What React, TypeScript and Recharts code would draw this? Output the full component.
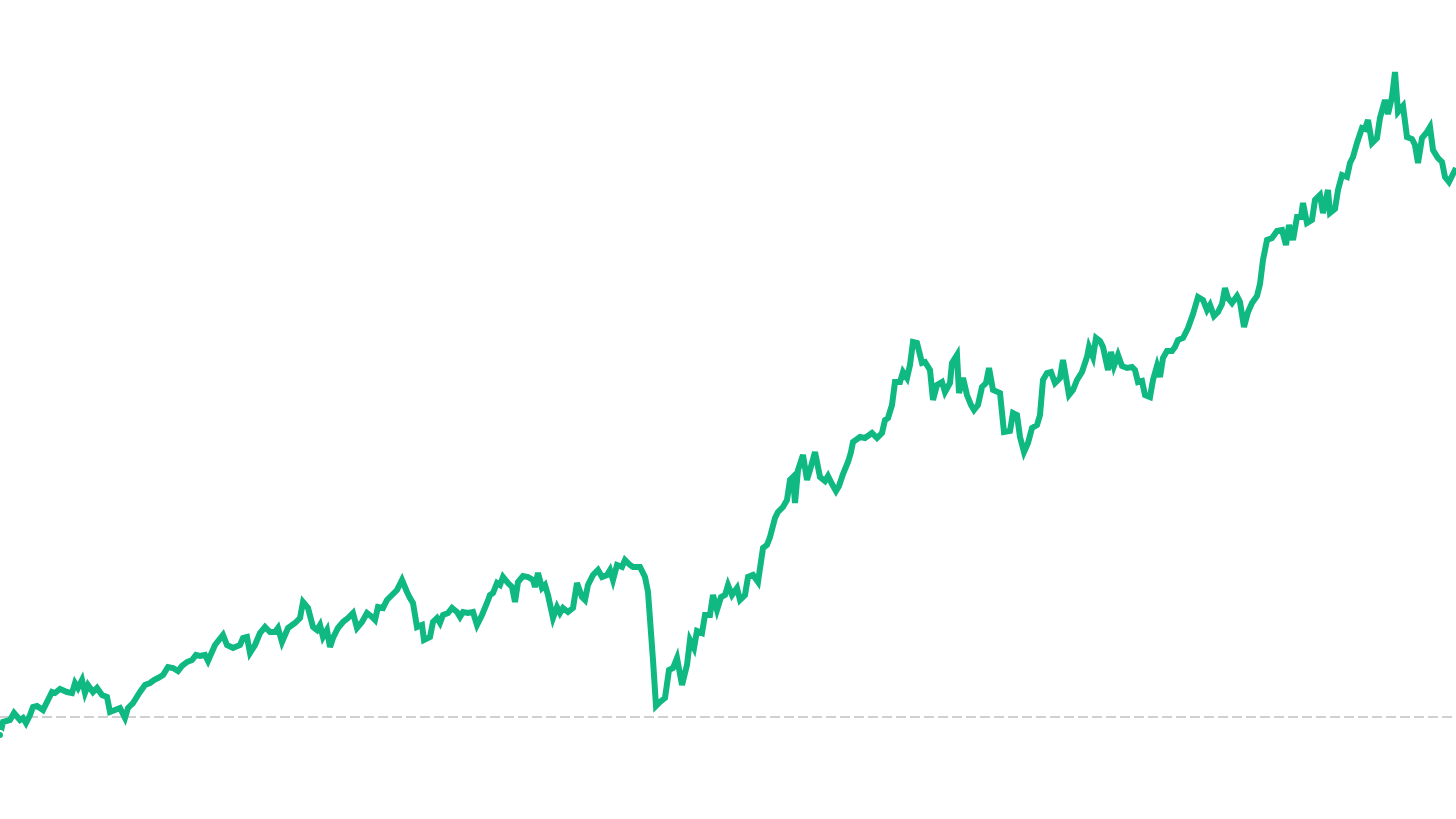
import React from 'react'
import { LineChart, Line, XAxis, YAxis, ReferenceLine } from 'recharts'

// trading day index since start
const days = [
  0, 3, 10, 14, 20, 23, 26, 30, 33, 37, 43, 52, 55, 60, 67, 72, 75, 78, 82, 85, 88, 93, 97, 102, 107, 110, 115, 120, 125, 128,
  133, 140, 145, 150, 154, 158, 163, 168, 173, 178, 182, 187, 192, 196, 200, 205, 208,
  215, 223, 227, 233, 240, 243, 247, 250, 255, 260, 265, 270, 275, 278, 282, 288, 295, 300, 303, 308, 313, 317, 320, 323,
  327, 330, 333, 338, 343, 348, 353, 357, 362, 367, 372, 375, 378, 383, 387, 392, 397, 402, 407, 410, 413, 417,
  422, 424, 430, 433, 437, 440, 443, 448, 452, 457, 460, 463, 468, 473, 477, 482, 487, 490, 493, 497, 500, 503, 508, 512,
  515, 518, 523, 528, 533, 535, 538, 542, 545, 548, 553, 557, 560, 563, 568, 573, 577, 582, 585, 588, 593, 598, 602, 607,
  610, 613, 617, 622, 625, 630, 633, 640, 645, 648, 653, 656,
  660, 665, 669, 673, 677, 682, 687, 690, 694, 697, 702, 705, 710, 713, 717, 721, 725, 728, 732, 737, 740, 745, 748, 753,
  758, 763, 767, 770, 775, 778, 783, 787, 790, 793, 795, 798, 803, 807, 810, 815, 820, 825, 828, 832, 836, 839, 843, 848,
  851, 853,
  860, 865, 872, 877, 882, 885, 888, 892, 895, 900, 903, 907, 910, 913, 917, 922, 925, 930, 933, 937, 942, 945, 950, 952,
  957, 959, 963, 967, 971, 974, 978, 982, 986, 989, 993, 1000, 1004, 1010, 1013, 1017, 1020, 1024, 1028, 1032, 1037, 1040,
  1043, 1047, 1051, 1055, 1060, 1063, 1069, 1073, 1077, 1082, 1087, 1089, 1093, 1096, 1100, 1103, 1108, 1111, 1114, 1118,
  1122, 1127, 1132, 1135, 1138, 1142, 1145, 1150, 1153, 1157, 1160, 1163, 1167, 1172, 1175, 1178, 1183, 1188, 1193, 1198,
  1203, 1207, 1210, 1214, 1218, 1222, 1225, 1228, 1232, 1237, 1240, 1244, 1248, 1252, 1257, 1260, 1263, 1267, 1272, 1277,
  1282, 1286, 1289, 1293, 1297, 1301, 1303, 1307, 1312, 1315, 1320, 1323, 1328, 1330, 1335, 1338, 1342, 1347, 1350, 1353,
  1357, 1362, 1365, 1368, 1372, 1377, 1380, 1385, 1388, 1392, 1395, 1398, 1403, 1407, 1412, 1415, 1418, 1422, 1427, 1430,
  1433, 1438, 1442, 1445, 1449, 1453, 1456,
]

// cumulative return, %
const returns = [
  -1.8, -0.5, -0.3, 0.4, -0.3, -0.1, -0.6, 0.2, 1.0, 1.1, 0.7, 2.5, 2.4, 2.8, 2.5, 2.4, 3.4, 2.9, 3.7, 2.4, 3.2, 2.5, 2.9, 2.2, 2.0, 0.5, 0.7, 0.9, -0.1, 0.9,
  1.4, 2.5, 3.2, 3.4, 3.7, 3.9, 4.2, 5.0, 4.9, 4.6, 5.1, 5.5, 5.7, 6.2, 6.1, 6.2, 5.6,
  7.2, 8.2, 7.2, 6.9, 7.2, 7.9, 8.0, 6.4, 7.2, 8.4, 9.0, 8.5, 8.5, 8.9, 7.5, 8.9, 9.4, 9.9, 11.5, 10.9, 9.0, 8.7, 9.2, 8.0,
  8.7, 7.0, 7.9, 8.9, 9.5, 9.9, 10.4, 8.9, 9.5, 10.4, 10.0, 9.7, 11.0, 10.9, 11.7, 12.2, 12.7, 13.7, 12.5, 11.9, 11.4, 9.0,
  9.2, 7.7, 8.0, 9.5, 9.9, 9.4, 10.2, 10.4, 10.9, 10.5, 10.0, 10.5, 10.4, 10.5, 9.2, 10.2, 11.4, 12.2, 12.4, 13.4, 13.2, 14.0, 13.4, 13.0,
  11.5, 13.5, 14.1, 14.0, 13.7, 13.0, 14.4, 12.9, 13.2, 12.2, 9.9, 11.0, 10.4, 10.9, 10.5, 10.9, 13.4, 12.0, 11.7, 13.2, 14.2, 14.7, 14.0, 14.2,
  14.7, 13.7, 15.2, 15.0, 15.7, 15.2, 15.0, 15.0, 14.0, 12.5, 5.7, 1.1,
  1.5, 1.9, 4.7, 4.9, 5.9, 3.2, 5.2, 7.7, 6.9, 8.6, 8.4, 10.2, 10.2, 12.2, 10.7, 12.0, 12.2, 13.2, 12.2, 12.9, 11.7, 12.2, 14.0, 14.2,
  13.5, 16.9, 17.2, 18.0, 19.9, 20.5, 21.0, 21.7, 23.7, 24.0, 21.4, 24.7, 26.2, 23.7, 24.7, 26.5, 24.0, 23.6, 24.1, 23.3, 22.6, 23.1, 24.3, 25.5,
  26.5, 27.5,
  28.0, 27.9, 28.4, 27.9, 28.4, 29.7, 29.9, 31.2, 33.5, 33.5, 34.5, 33.9, 35.2, 37.5, 37.4, 35.4, 35.5, 34.7, 31.7, 33.2, 33.5, 32.5, 33.4, 35.4,
  36.2, 32.4, 33.9, 32.2, 31.2, 30.7, 31.2, 33.0, 33.4, 34.9, 32.7, 32.4, 28.5, 28.6, 30.4, 30.2, 28.0, 26.5, 27.4, 28.9, 29.2, 30.2,
  33.7, 34.4, 34.5, 33.4, 33.9, 35.7, 32.2, 32.7, 33.7, 34.5, 36.0, 37.0, 36.0, 37.9, 37.6, 37.0, 34.7, 36.5, 35.1, 36.2,
  35.1, 34.9, 35.0, 34.7, 33.5, 33.6, 32.2, 32.0, 33.7, 35.1, 34.0, 35.9, 36.6, 36.6, 37.0, 37.7, 37.9, 38.9, 40.3, 42.0,
  41.7, 40.7, 41.2, 40.1, 40.5, 41.3, 42.9, 41.9, 41.4, 42.1, 41.5, 39.0, 40.5, 41.4, 42.1, 43.3, 45.7, 47.7, 47.9, 48.6,
  48.7, 47.2, 49.2, 47.7, 50.0, 50.0, 51.4, 49.4, 49.7, 51.7, 52.2, 50.4, 52.7, 50.4, 50.8, 52.7, 54.2, 54.0, 55.4, 56.0,
  57.4, 58.9, 58.8, 59.7, 57.4, 57.9, 59.9, 61.7, 60.3, 62.0, 64.5, 60.5, 61.1, 58.0, 57.8, 57.2, 55.4, 57.9, 58.5, 59.0,
  56.7, 55.9, 55.5, 54.0, 53.5, 54.3, 54.9,
]

const data = days.map((d, i) => ({ day: d, value: returns[i] }))

export default function App() {
  return (
    <div style={{ position: 'absolute', left: 0, top: 0, width: 1456, height: 819, background: '#fff' }}>
      <LineChart width={1456} height={819} data={data} margin={{ top: 0, right: 0, bottom: 0, left: 0 }}>
        <XAxis dataKey="day" type="number" domain={[0, 1456]} hide />
        <YAxis type="number" domain={[-10.2, 71.7]} hide />
        <ReferenceLine
          segment={[{ x: 0, y: 0 }, { x: 1456, y: 0 }]}
          ifOverflow="visible"
          stroke="#d0d0d0"
          strokeWidth={2}
          strokeDasharray="10 4"
        />
        <Line
          type="linear"
          dataKey="value"
          stroke="#10b981"
          strokeWidth={6}
          dot={false}
          isAnimationActive={false}
        />
      </LineChart>
    </div>
  )
}
